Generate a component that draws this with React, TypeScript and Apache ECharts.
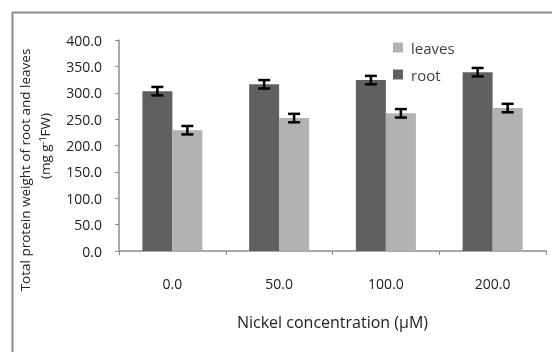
import React, { useEffect, useRef } from "react";
import * as echarts from "echarts";

const categories = ["0.0", "50.0", "100.0", "200.0"];
const rootValues = [303, 316, 324, 339];
const leavesValues = [229, 252, 261, 271];
const rootErrors = [8, 8, 8, 8];
const leavesErrors = [8, 8, 8, 8];
const yTicks = [0, 50, 100, 150, 200, 250, 300, 350, 400];

const FONT = "'Open Sans', 'Noto Sans', sans-serif";

export default function App() {
  const ref = useRef<HTMLDivElement>(null);
  useEffect(() => {
    if (!ref.current) return;
    const chart = echarts.init(ref.current, undefined, { renderer: "svg" });
    const errData = (vals: number[], errs: number[]) =>
      vals.map((v, i) => [i, v, errs[i]]);
    const makeErr = (offset: number) => (params: any, api: any) => {
      const i = api.value(0);
      const v = api.value(1);
      const e = api.value(2);
      const top = api.coord([i, v + e]);
      const bot = api.coord([i, v - e]);
      const x = top[0] + offset;
      const cap = 6;
      const style = { stroke: "#000", lineWidth: 2.5 };
      return {
        type: "group",
        children: [
          { type: "line", shape: { x1: x, y1: top[1], x2: x, y2: bot[1] }, style },
          { type: "line", shape: { x1: x - cap, y1: top[1], x2: x + cap, y2: top[1] }, style },
          { type: "line", shape: { x1: x - cap, y1: bot[1], x2: x + cap, y2: bot[1] }, style },
        ],
      };
    };
    chart.setOption({
      animation: false,
      textStyle: { fontFamily: FONT },
      graphic: [
        {
          type: "rect",
          left: 10,
          top: 10,
          shape: { width: 600, height: 400 },
          style: { fill: "none", stroke: "#8c8c8c", lineWidth: 2 },
          z: -1,
        },
        {
          type: "text",
          x: 25,
          y: 170,
          rotation: Math.PI / 2,
          style: {
            text: "Total protein weight of root and leaves",
            fill: "#222",
            font: `13.5px ${FONT}`,
            align: "center",
            verticalAlign: "middle",
          },
        },
        {
          type: "text",
          x: 45,
          y: 146,
          rotation: Math.PI / 2,
          style: {
            text: "(mg g{sup|-1}FW)",
            fill: "#222",
            font: `13.5px ${FONT}`,
            align: "center",
            verticalAlign: "middle",
            rich: {
              sup: { fontSize: 9, fontFamily: FONT, verticalAlign: "top", fill: "#222", padding: [0, 0, 6, 0] },
            },
          },
        },
      ],
      legend: {
        orient: "vertical",
        left: 388,
        top: 35,
        itemWidth: 10,
        itemHeight: 10,
        itemGap: 12,
        icon: "rect",
        data: ["leaves", "root"],
        textStyle: { fontSize: 15, color: "#404040", fontFamily: FONT, padding: [0, 0, 0, 3] },
      },
      grid: { left: 119, right: 6, top: 40, bottom: 101 },
      xAxis: {
        type: "category",
        data: categories,
        axisLine: { lineStyle: { color: "#8c8c8c", width: 1.5 } },
        axisTick: { show: true, length: 4, lineStyle: { color: "#8c8c8c" } },
        axisLabel: { margin: 25, fontSize: 14, color: "#222" },
        name: "Nickel concentration (μM)",
        nameLocation: "middle",
        nameGap: 63,
        nameTextStyle: { fontSize: 16, color: "#222" },
      },
      yAxis: {
        type: "value",
        min: 0,
        max: 400,
        interval: 50,
        axisLine: { show: true, lineStyle: { color: "#8c8c8c", width: 1.5 } },
        axisTick: { show: true, length: 4, lineStyle: { color: "#8c8c8c" } },
        splitLine: { show: false },
        axisLabel: {
          margin: 17,
          fontSize: 14,
          color: "#222",
          formatter: (v: number) => (yTicks.includes(v) ? v.toFixed(1) : ""),
        },
      },
      series: [
        {
          name: "root",
          type: "bar",
          data: rootValues,
          barWidth: 30,
          barGap: "0%",
          itemStyle: { color: "#606060" },
        },
        {
          name: "leaves",
          type: "bar",
          data: leavesValues,
          barWidth: 30,
          barGap: "0%",
          itemStyle: { color: "#b2b2b2" },
        },
        {
          type: "custom",
          name: "rootErr",
          data: errData(rootValues, rootErrors),
          renderItem: makeErr(-15),
          z: 10,
          encode: { x: 0, y: 1 },
        },
        {
          type: "custom",
          name: "leavesErr",
          data: errData(leavesValues, leavesErrors),
          renderItem: makeErr(15),
          z: 10,
          encode: { x: 0, y: 1 },
        },
      ],
    });
    return () => chart.dispose();
  }, []);
  return (
    <div
      ref={ref}
      style={{ position: "fixed", left: 0, top: 0, width: 552, height: 352 }}
    />
  );
}
